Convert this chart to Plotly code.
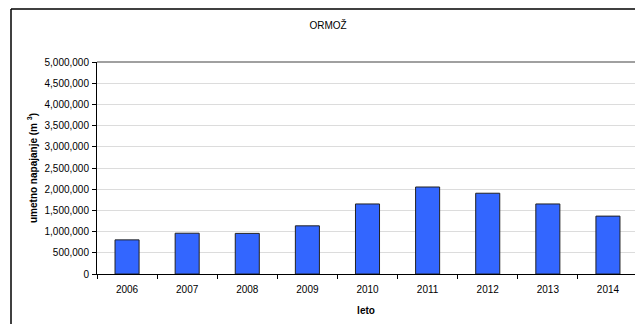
import plotly.graph_objects as go

# Yearly artificial recharge volumes, Ormož
years = ["2006", "2007", "2008", "2009", "2010", "2011", "2012", "2013", "2014"]
volumes = [805000, 962000, 958000, 1136000, 1652000, 2052000, 1905000, 1652000, 1365000]
y_ticks = [0, 500000, 1000000, 1500000, 2000000, 2500000, 3000000, 3500000, 4000000, 4500000, 5000000]

W, H = 635, 324
L, R, T, B = 97, 0, 62, 50
pw = W - L - R
ph = H - T - B

fig = go.Figure()
fig.add_trace(go.Bar(
    x=years, y=volumes, width=0.4,
    marker=dict(color="#3366FF", line=dict(color="#222222", width=1)),
    hoverinfo="x+y",
))

font = "Arial, 'Liberation Sans', sans-serif"

# frame position in paper coordinates
frame_x = (11 - L) / pw
frame_top = 1 + (T - 9) / ph
frame_bottom = -(B + 10) / ph

fig.update_layout(
    width=W, height=H,
    margin=dict(l=L, r=R, t=T, b=B, pad=0),
    paper_bgcolor="white", plot_bgcolor="white",
    showlegend=False,
    font=dict(family=font, size=10, color="#000000"),
    title=dict(text="ORMOŽ", x=(328 - L) / pw, xref="paper", xanchor="center",
               y=1 - 25 / H, yanchor="middle", font=dict(size=10)),
    xaxis=dict(
        type="category", range=[-0.5, len(years) - 0.5 - 3 / 60],
        showline=True, linecolor="#000000", linewidth=1,
        ticks="outside", tickson="boundaries", ticklen=4, tickcolor="#000000",
        ticklabelstandoff=6,
        showgrid=False, zeroline=False,
        title=dict(text="<b>leto</b>", standoff=12, font=dict(size=10)),
    ),
    yaxis=dict(
        range=[0, 5000000], tickvals=y_ticks, tickformat=",d",
        showline=True, linecolor="#000000", linewidth=1,
        ticks="outside", ticklen=4, tickcolor="#000000",
        ticklabelstandoff=1,
        showgrid=True, gridcolor="#dcdcdc", gridwidth=1,
        zeroline=False,
        title=dict(text="<b>umetno napajanje (m <sup>3</sup>)</b>", standoff=5, font=dict(size=10)),
    ),
    shapes=[
        # top edge of the plot area
        dict(type="line", xref="paper", yref="paper", x0=0, x1=1.01, y0=1, y1=1,
             line=dict(color="#a0a0a0", width=2)),
        # outer chart frame (left and top edges)
        dict(type="line", xref="paper", yref="paper",
             x0=frame_x, x1=frame_x, y0=frame_bottom, y1=frame_top,
             line=dict(color="#000000", width=1.5)),
        dict(type="line", xref="paper", yref="paper",
             x0=frame_x, x1=(W + 10 - L) / pw, y0=frame_top, y1=frame_top,
             line=dict(color="#000000", width=1.5)),
    ],
)

fig.write_html("out.html")
